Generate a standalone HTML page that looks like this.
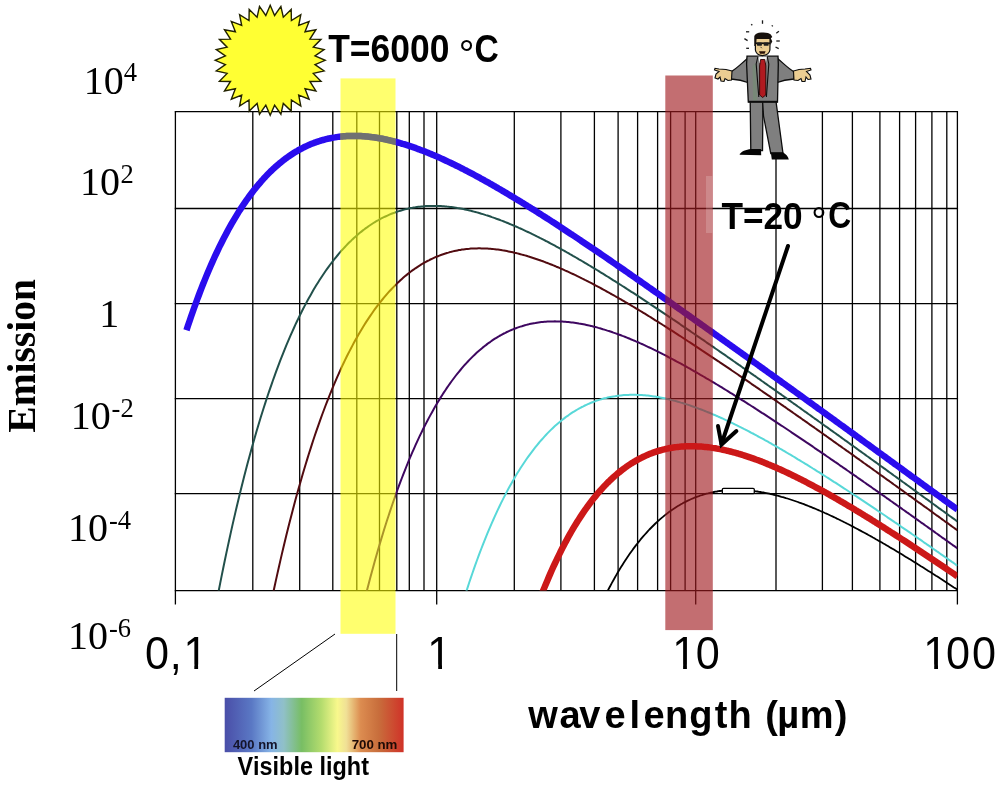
<!DOCTYPE html>
<html><head><meta charset="utf-8"><title>Blackbody emission spectra</title>
<style>
html,body{margin:0;padding:0;background:#fff;}
body{width:1000px;height:789px;overflow:hidden;}
svg{display:block;}
text{font-kerning:none;}
</style></head><body>
<svg width="1000" height="789" viewBox="0 0 1000 789">
<defs>
<clipPath id="plot"><rect x="175.4" y="111.6" width="782.0" height="479.0"/></clipPath>
<linearGradient id="spec" x1="0" y1="0" x2="1" y2="0">
<stop offset="0" stop-color="#4a4ea8"/>
<stop offset="0.15" stop-color="#5a78c4"/>
<stop offset="0.26" stop-color="#86b4e6"/>
<stop offset="0.33" stop-color="#90c0c8"/>
<stop offset="0.43" stop-color="#78be64"/>
<stop offset="0.54" stop-color="#b4dc6e"/>
<stop offset="0.63" stop-color="#f8f88c"/>
<stop offset="0.68" stop-color="#f0e096"/>
<stop offset="0.76" stop-color="#dc8c50"/>
<stop offset="0.86" stop-color="#c86e3c"/>
<stop offset="1" stop-color="#d03228"/>
</linearGradient>
</defs>
<rect width="1000" height="789" fill="#fff"/>
<g stroke="#000" stroke-width="1.3" fill="none">
<line x1="175.4" y1="111.6" x2="175.4" y2="590.6"/>
<line x1="252.8" y1="111.6" x2="252.8" y2="590.6"/>
<line x1="299.7" y1="111.6" x2="299.7" y2="590.6"/>
<line x1="332.8" y1="111.6" x2="332.8" y2="590.6"/>
<line x1="356.8" y1="111.6" x2="356.8" y2="590.6"/>
<line x1="379.5" y1="111.6" x2="379.5" y2="590.6"/>
<line x1="396.8" y1="111.6" x2="396.8" y2="590.6"/>
<line x1="409.3" y1="111.6" x2="409.3" y2="590.6"/>
<line x1="424.0" y1="111.6" x2="424.0" y2="590.6"/>
<line x1="436.7" y1="111.6" x2="436.7" y2="590.6"/>
<line x1="514.3" y1="111.6" x2="514.3" y2="590.6"/>
<line x1="560.9" y1="111.6" x2="560.9" y2="590.6"/>
<line x1="594.4" y1="111.6" x2="594.4" y2="590.6"/>
<line x1="618.1" y1="111.6" x2="618.1" y2="590.6"/>
<line x1="637.6" y1="111.6" x2="637.6" y2="590.6"/>
<line x1="657.6" y1="111.6" x2="657.6" y2="590.6"/>
<line x1="670.6" y1="111.6" x2="670.6" y2="590.6"/>
<line x1="685.1" y1="111.6" x2="685.1" y2="590.6"/>
<line x1="695.7" y1="111.6" x2="695.7" y2="590.6"/>
<line x1="776.0" y1="111.6" x2="776.0" y2="590.6"/>
<line x1="822.4" y1="111.6" x2="822.4" y2="590.6"/>
<line x1="852.4" y1="111.6" x2="852.4" y2="590.6"/>
<line x1="879.9" y1="111.6" x2="879.9" y2="590.6"/>
<line x1="899.6" y1="111.6" x2="899.6" y2="590.6"/>
<line x1="915.6" y1="111.6" x2="915.6" y2="590.6"/>
<line x1="931.9" y1="111.6" x2="931.9" y2="590.6"/>
<line x1="946.8" y1="111.6" x2="946.8" y2="590.6"/>
<line x1="957.4" y1="111.6" x2="957.4" y2="590.6"/>
<line x1="174.75" y1="111.6" x2="958.05" y2="111.6"/>
<line x1="174.75" y1="208.5" x2="958.05" y2="208.5"/>
<line x1="174.75" y1="303.6" x2="958.05" y2="303.6"/>
<line x1="174.75" y1="398.7" x2="958.05" y2="398.7"/>
<line x1="174.75" y1="493.7" x2="958.05" y2="493.7"/>
<line x1="174.75" y1="590.6" x2="958.05" y2="590.6"/>
<line x1="175.4" y1="590.6" x2="175.4" y2="604.5"/>
<line x1="436.7" y1="590.6" x2="436.7" y2="604.5"/>
<line x1="695.7" y1="590.6" x2="695.7" y2="604.5"/>
<line x1="957.4" y1="590.6" x2="957.4" y2="604.5"/>
</g>
<g clip-path="url(#plot)">
<path d="M215.9,605.3 L217.4,597.4 L218.9,589.7 L220.4,582.1 L221.9,574.6 L223.4,567.3 L224.9,560.0 L226.4,552.9 L227.9,545.9 L229.4,539.0 L230.9,532.1 L232.4,525.4 L233.9,518.9 L235.4,512.4 L236.9,506.0 L238.4,499.7 L239.9,493.5 L241.4,487.4 L242.9,481.5 L244.4,475.6 L245.9,469.8 L247.4,464.1 L248.9,458.5 L250.4,453.0 L251.9,447.5 L253.4,442.2 L254.9,437.0 L256.4,431.8 L257.9,426.7 L259.4,421.7 L260.9,416.8 L262.4,412.0 L263.9,407.3 L265.4,402.6 L266.9,398.0 L268.4,393.5 L269.9,389.1 L271.4,384.8 L272.9,380.5 L274.4,376.3 L275.9,372.1 L277.4,368.1 L278.9,364.1 L280.4,360.2 L281.9,356.4 L283.4,352.6 L284.9,348.9 L286.4,345.2 L287.9,341.7 L289.4,338.1 L290.9,334.7 L292.4,331.3 L293.9,328.0 L295.4,324.7 L296.9,321.5 L298.4,318.4 L299.9,315.3 L301.4,312.3 L302.9,309.3 L304.4,306.4 L305.9,303.6 L307.4,300.8 L308.9,298.0 L310.4,295.4 L311.9,292.7 L313.4,290.1 L314.9,287.6 L316.4,285.1 L317.9,282.7 L319.4,280.3 L320.9,278.0 L322.4,275.7 L323.9,273.5 L325.4,271.3 L326.9,269.2 L328.4,267.1 L329.9,265.0 L331.4,263.0 L332.9,261.1 L334.4,259.2 L335.9,257.3 L337.4,255.5 L338.9,253.7 L340.4,251.9 L341.9,250.2 L343.4,248.6 L344.9,247.0 L346.4,245.4 L347.9,243.8 L349.4,242.3 L350.9,240.9 L352.4,239.4 L353.9,238.0 L355.4,236.7 L356.9,235.4 L358.4,234.1 L359.9,232.8 L361.4,231.6 L362.9,230.4 L364.4,229.3 L365.9,228.1 L367.4,227.1 L368.9,226.0 L370.4,225.0 L371.9,224.0 L373.4,223.0 L374.9,222.1 L376.4,221.2 L377.9,220.4 L379.4,219.5 L380.9,218.7 L382.4,217.9 L383.9,217.2 L385.4,216.5 L386.9,215.8 L388.4,215.1 L389.9,214.4 L391.4,213.8 L392.9,213.2 L394.4,212.7 L395.9,212.1 L397.4,211.6 L398.9,211.1 L400.4,210.7 L401.9,210.2 L403.4,209.8 L404.9,209.4 L406.4,209.0 L407.9,208.7 L409.4,208.3 L410.9,208.0 L412.4,207.8 L413.9,207.5 L415.4,207.3 L416.9,207.0 L418.4,206.8 L419.9,206.7 L421.4,206.5 L422.9,206.4 L424.4,206.2 L425.9,206.1 L427.4,206.1 L428.9,206.0 L430.4,205.9 L431.9,205.9 L433.4,205.9 L434.9,205.9 L436.4,205.9 L437.9,206.0 L439.4,206.0 L440.9,206.1 L442.4,206.2 L443.9,206.3 L445.4,206.4 L446.9,206.6 L448.4,206.7 L449.9,206.9 L451.4,207.1 L452.9,207.3 L454.4,207.5 L455.9,207.7 L457.4,208.0 L458.9,208.2 L460.4,208.5 L461.9,208.8 L463.4,209.1 L464.9,209.4 L466.4,209.7 L467.9,210.1 L469.4,210.4 L470.9,210.8 L472.4,211.2 L473.9,211.6 L475.4,212.0 L476.9,212.4 L478.4,212.8 L479.9,213.2 L481.4,213.7 L482.9,214.1 L484.4,214.6 L485.9,215.1 L487.4,215.5 L488.9,216.0 L490.4,216.5 L491.9,217.1 L493.4,217.6 L494.9,218.1 L496.4,218.7 L497.9,219.2 L499.4,219.8 L500.9,220.4 L502.4,220.9 L503.9,221.5 L505.4,222.1 L506.9,222.7 L508.4,223.3 L509.9,224.0 L511.4,224.6 L512.9,225.2 L514.4,225.9 L515.9,226.5 L517.4,227.2 L518.9,227.9 L520.4,228.5 L521.9,229.2 L523.4,229.9 L524.9,230.6 L526.4,231.3 L527.9,232.0 L529.4,232.7 L530.9,233.4 L532.4,234.2 L533.9,234.9 L535.4,235.6 L536.9,236.4 L538.4,237.1 L539.9,237.9 L541.4,238.6 L542.9,239.4 L544.4,240.2 L545.9,241.0 L547.4,241.7 L548.9,242.5 L550.4,243.3 L551.9,244.1 L553.4,244.9 L554.9,245.7 L556.4,246.6 L557.9,247.4 L559.4,248.2 L560.9,249.0 L562.4,249.9 L563.9,250.7 L565.4,251.5 L566.9,252.4 L568.4,253.2 L569.9,254.1 L571.4,254.9 L572.9,255.8 L574.4,256.6 L575.9,257.5 L577.4,258.4 L578.9,259.3 L580.4,260.1 L581.9,261.0 L583.4,261.9 L584.9,262.8 L586.4,263.7 L587.9,264.6 L589.4,265.5 L590.9,266.4 L592.4,267.3 L593.9,268.2 L595.4,269.1 L596.9,270.0 L598.4,270.9 L599.9,271.9 L601.4,272.8 L602.9,273.7 L604.4,274.6 L605.9,275.6 L607.4,276.5 L608.9,277.4 L610.4,278.4 L611.9,279.3 L613.4,280.3 L614.9,281.2 L616.4,282.2 L617.9,283.1 L619.4,284.1 L620.9,285.0 L622.4,286.0 L623.9,286.9 L625.4,287.9 L626.9,288.9 L628.4,289.8 L629.9,290.8 L631.4,291.8 L632.9,292.7 L634.4,293.7 L635.9,294.7 L637.4,295.7 L638.9,296.7 L640.4,297.6 L641.9,298.6 L643.4,299.6 L644.9,300.6 L646.4,301.6 L647.9,302.6 L649.4,303.6 L650.9,304.6 L652.4,305.6 L653.9,306.6 L655.4,307.6 L656.9,308.6 L658.4,309.6 L659.9,310.6 L661.4,311.6 L662.9,312.6 L664.4,313.6 L665.9,314.6 L667.4,315.6 L668.9,316.6 L670.4,317.6 L671.9,318.6 L673.4,319.7 L674.9,320.7 L676.4,321.7 L677.9,322.7 L679.4,323.7 L680.9,324.8 L682.4,325.8 L683.9,326.8 L685.4,327.8 L686.9,328.9 L688.4,329.9 L689.9,330.9 L691.4,332.0 L692.9,333.0 L694.4,334.0 L695.9,335.1 L697.4,336.1 L698.9,337.1 L700.4,338.1 L701.9,339.2 L703.4,340.2 L704.9,341.2 L706.4,342.3 L707.9,343.3 L709.4,344.3 L710.9,345.4 L712.4,346.4 L713.9,347.4 L715.4,348.5 L716.9,349.5 L718.4,350.5 L719.9,351.6 L721.4,352.6 L722.9,353.7 L724.4,354.7 L725.9,355.7 L727.4,356.8 L728.9,357.8 L730.4,358.9 L731.9,359.9 L733.4,361.0 L734.9,362.0 L736.4,363.1 L737.9,364.1 L739.4,365.2 L740.9,366.2 L742.4,367.3 L743.9,368.3 L745.4,369.4 L746.9,370.4 L748.4,371.5 L749.9,372.5 L751.4,373.6 L752.9,374.6 L754.4,375.7 L755.9,376.7 L757.4,377.8 L758.9,378.8 L760.4,379.9 L761.9,381.0 L763.4,382.0 L764.9,383.1 L766.4,384.1 L767.9,385.2 L769.4,386.3 L770.9,387.3 L772.4,388.4 L773.9,389.4 L775.4,390.5 L776.9,391.6 L778.4,392.6 L779.9,393.7 L781.4,394.7 L782.9,395.8 L784.4,396.9 L785.9,397.9 L787.4,399.0 L788.9,400.1 L790.4,401.1 L791.9,402.2 L793.4,403.3 L794.9,404.3 L796.4,405.4 L797.9,406.5 L799.4,407.5 L800.9,408.6 L802.4,409.7 L803.9,410.8 L805.4,411.8 L806.9,412.9 L808.4,414.0 L809.9,415.0 L811.4,416.1 L812.9,417.2 L814.4,418.3 L815.9,419.3 L817.4,420.4 L818.9,421.5 L820.4,422.5 L821.9,423.6 L823.4,424.7 L824.9,425.8 L826.4,426.8 L827.9,427.9 L829.4,429.0 L830.9,430.1 L832.4,431.1 L833.9,432.2 L835.4,433.3 L836.9,434.4 L838.4,435.4 L839.9,436.5 L841.4,437.6 L842.9,438.7 L844.4,439.8 L845.9,440.8 L847.4,441.9 L848.9,443.0 L850.4,444.1 L851.9,445.2 L853.4,446.2 L854.9,447.3 L856.4,448.4 L857.9,449.5 L859.4,450.6 L860.9,451.6 L862.4,452.7 L863.9,453.8 L865.4,454.9 L866.9,456.0 L868.4,457.0 L869.9,458.1 L871.4,459.2 L872.9,460.3 L874.4,461.4 L875.9,462.4 L877.4,463.5 L878.9,464.6 L880.4,465.7 L881.9,466.8 L883.4,467.9 L884.9,468.9 L886.4,470.0 L887.9,471.1 L889.4,472.2 L890.9,473.3 L892.4,474.4 L893.9,475.5 L895.4,476.5 L896.9,477.6 L898.4,478.7 L899.9,479.8 L901.4,480.9 L902.9,482.0 L904.4,483.0 L905.9,484.1 L907.4,485.2 L908.9,486.3 L910.4,487.4 L911.9,488.5 L913.4,489.6 L914.9,490.7 L916.4,491.7 L917.9,492.8 L919.4,493.9 L920.9,495.0 L922.4,496.1 L923.9,497.2 L925.4,498.3 L926.9,499.3 L928.4,500.4 L929.9,501.5 L931.4,502.6 L932.9,503.7 L934.4,504.8 L935.9,505.9 L937.4,507.0 L938.9,508.1 L940.4,509.1 L941.9,510.2 L943.4,511.3 L944.9,512.4 L946.4,513.5 L947.9,514.6 L949.4,515.7 L950.9,516.8 L952.4,517.9 L953.9,518.9 L955.4,520.0 L956.9,521.1 L957.4,521.5" stroke="#22504b" stroke-width="2.0" fill="none" stroke-linejoin="round"/>
<path d="M271.4,601.5 L272.9,594.3 L274.4,587.3 L275.9,580.4 L277.4,573.6 L278.9,567.0 L280.4,560.4 L281.9,553.9 L283.4,547.5 L284.9,541.3 L286.4,535.1 L287.9,529.0 L289.4,523.1 L290.9,517.2 L292.4,511.4 L293.9,505.7 L295.4,500.1 L296.9,494.6 L298.4,489.2 L299.9,483.9 L301.4,478.7 L302.9,473.5 L304.4,468.5 L305.9,463.5 L307.4,458.6 L308.9,453.8 L310.4,449.1 L311.9,444.4 L313.4,439.8 L314.9,435.3 L316.4,430.9 L317.9,426.6 L319.4,422.3 L320.9,418.1 L322.4,414.0 L323.9,410.0 L325.4,406.0 L326.9,402.1 L328.4,398.3 L329.9,394.5 L331.4,390.8 L332.9,387.2 L334.4,383.6 L335.9,380.1 L337.4,376.7 L338.9,373.3 L340.4,370.0 L341.9,366.7 L343.4,363.5 L344.9,360.4 L346.4,357.3 L347.9,354.3 L349.4,351.4 L350.9,348.5 L352.4,345.6 L353.9,342.8 L355.4,340.1 L356.9,337.4 L358.4,334.8 L359.9,332.2 L361.4,329.7 L362.9,327.2 L364.4,324.8 L365.9,322.4 L367.4,320.1 L368.9,317.9 L370.4,315.6 L371.9,313.5 L373.4,311.3 L374.9,309.2 L376.4,307.2 L377.9,305.2 L379.4,303.3 L380.9,301.3 L382.4,299.5 L383.9,297.7 L385.4,295.9 L386.9,294.1 L388.4,292.4 L389.9,290.8 L391.4,289.2 L392.9,287.6 L394.4,286.1 L395.9,284.6 L397.4,283.1 L398.9,281.7 L400.4,280.3 L401.9,278.9 L403.4,277.6 L404.9,276.3 L406.4,275.1 L407.9,273.9 L409.4,272.7 L410.9,271.5 L412.4,270.4 L413.9,269.4 L415.4,268.3 L416.9,267.3 L418.4,266.3 L419.9,265.4 L421.4,264.4 L422.9,263.5 L424.4,262.7 L425.9,261.8 L427.4,261.0 L428.9,260.3 L430.4,259.5 L431.9,258.8 L433.4,258.1 L434.9,257.4 L436.4,256.8 L437.9,256.2 L439.4,255.6 L440.9,255.0 L442.4,254.5 L443.9,254.0 L445.4,253.5 L446.9,253.0 L448.4,252.6 L449.9,252.1 L451.4,251.8 L452.9,251.4 L454.4,251.0 L455.9,250.7 L457.4,250.4 L458.9,250.1 L460.4,249.9 L461.9,249.6 L463.4,249.4 L464.9,249.2 L466.4,249.0 L467.9,248.9 L469.4,248.8 L470.9,248.6 L472.4,248.5 L473.9,248.5 L475.4,248.4 L476.9,248.4 L478.4,248.3 L479.9,248.3 L481.4,248.4 L482.9,248.4 L484.4,248.4 L485.9,248.5 L487.4,248.6 L488.9,248.7 L490.4,248.8 L491.9,248.9 L493.4,249.1 L494.9,249.2 L496.4,249.4 L497.9,249.6 L499.4,249.8 L500.9,250.0 L502.4,250.3 L503.9,250.5 L505.4,250.8 L506.9,251.1 L508.4,251.4 L509.9,251.7 L511.4,252.0 L512.9,252.3 L514.4,252.7 L515.9,253.0 L517.4,253.4 L518.9,253.8 L520.4,254.2 L521.9,254.6 L523.4,255.0 L524.9,255.4 L526.4,255.8 L527.9,256.3 L529.4,256.7 L530.9,257.2 L532.4,257.7 L533.9,258.2 L535.4,258.7 L536.9,259.2 L538.4,259.7 L539.9,260.2 L541.4,260.8 L542.9,261.3 L544.4,261.9 L545.9,262.5 L547.4,263.0 L548.9,263.6 L550.4,264.2 L551.9,264.8 L553.4,265.4 L554.9,266.0 L556.4,266.7 L557.9,267.3 L559.4,267.9 L560.9,268.6 L562.4,269.2 L563.9,269.9 L565.4,270.6 L566.9,271.2 L568.4,271.9 L569.9,272.6 L571.4,273.3 L572.9,274.0 L574.4,274.7 L575.9,275.4 L577.4,276.2 L578.9,276.9 L580.4,277.6 L581.9,278.4 L583.4,279.1 L584.9,279.9 L586.4,280.6 L587.9,281.4 L589.4,282.2 L590.9,282.9 L592.4,283.7 L593.9,284.5 L595.4,285.3 L596.9,286.1 L598.4,286.9 L599.9,287.7 L601.4,288.5 L602.9,289.3 L604.4,290.1 L605.9,291.0 L607.4,291.8 L608.9,292.6 L610.4,293.5 L611.9,294.3 L613.4,295.1 L614.9,296.0 L616.4,296.9 L617.9,297.7 L619.4,298.6 L620.9,299.4 L622.4,300.3 L623.9,301.2 L625.4,302.1 L626.9,302.9 L628.4,303.8 L629.9,304.7 L631.4,305.6 L632.9,306.5 L634.4,307.4 L635.9,308.3 L637.4,309.2 L638.9,310.1 L640.4,311.0 L641.9,311.9 L643.4,312.8 L644.9,313.7 L646.4,314.7 L647.9,315.6 L649.4,316.5 L650.9,317.4 L652.4,318.4 L653.9,319.3 L655.4,320.3 L656.9,321.2 L658.4,322.1 L659.9,323.1 L661.4,324.0 L662.9,325.0 L664.4,325.9 L665.9,326.9 L667.4,327.8 L668.9,328.8 L670.4,329.8 L671.9,330.7 L673.4,331.7 L674.9,332.7 L676.4,333.6 L677.9,334.6 L679.4,335.6 L680.9,336.5 L682.4,337.5 L683.9,338.5 L685.4,339.5 L686.9,340.5 L688.4,341.5 L689.9,342.4 L691.4,343.4 L692.9,344.4 L694.4,345.4 L695.9,346.4 L697.4,347.4 L698.9,348.4 L700.4,349.4 L701.9,350.4 L703.4,351.3 L704.9,352.3 L706.4,353.3 L707.9,354.3 L709.4,355.3 L710.9,356.3 L712.4,357.3 L713.9,358.3 L715.4,359.3 L716.9,360.3 L718.4,361.3 L719.9,362.4 L721.4,363.4 L722.9,364.4 L724.4,365.4 L725.9,366.4 L727.4,367.4 L728.9,368.4 L730.4,369.4 L731.9,370.5 L733.4,371.5 L734.9,372.5 L736.4,373.5 L737.9,374.5 L739.4,375.6 L740.9,376.6 L742.4,377.6 L743.9,378.6 L745.4,379.7 L746.9,380.7 L748.4,381.7 L749.9,382.7 L751.4,383.8 L752.9,384.8 L754.4,385.8 L755.9,386.9 L757.4,387.9 L758.9,388.9 L760.4,390.0 L761.9,391.0 L763.4,392.1 L764.9,393.1 L766.4,394.1 L767.9,395.2 L769.4,396.2 L770.9,397.2 L772.4,398.3 L773.9,399.3 L775.4,400.4 L776.9,401.4 L778.4,402.5 L779.9,403.5 L781.4,404.6 L782.9,405.6 L784.4,406.7 L785.9,407.7 L787.4,408.8 L788.9,409.8 L790.4,410.9 L791.9,411.9 L793.4,413.0 L794.9,414.0 L796.4,415.1 L797.9,416.1 L799.4,417.2 L800.9,418.2 L802.4,419.3 L803.9,420.3 L805.4,421.4 L806.9,422.4 L808.4,423.5 L809.9,424.6 L811.4,425.6 L812.9,426.7 L814.4,427.7 L815.9,428.8 L817.4,429.9 L818.9,430.9 L820.4,432.0 L821.9,433.0 L823.4,434.1 L824.9,435.2 L826.4,436.2 L827.9,437.3 L829.4,438.4 L830.9,439.4 L832.4,440.5 L833.9,441.6 L835.4,442.6 L836.9,443.7 L838.4,444.8 L839.9,445.8 L841.4,446.9 L842.9,448.0 L844.4,449.0 L845.9,450.1 L847.4,451.2 L848.9,452.2 L850.4,453.3 L851.9,454.4 L853.4,455.4 L854.9,456.5 L856.4,457.6 L857.9,458.7 L859.4,459.7 L860.9,460.8 L862.4,461.9 L863.9,463.0 L865.4,464.0 L866.9,465.1 L868.4,466.2 L869.9,467.2 L871.4,468.3 L872.9,469.4 L874.4,470.5 L875.9,471.5 L877.4,472.6 L878.9,473.7 L880.4,474.8 L881.9,475.8 L883.4,476.9 L884.9,478.0 L886.4,479.1 L887.9,480.2 L889.4,481.2 L890.9,482.3 L892.4,483.4 L893.9,484.5 L895.4,485.5 L896.9,486.6 L898.4,487.7 L899.9,488.8 L901.4,489.9 L902.9,490.9 L904.4,492.0 L905.9,493.1 L907.4,494.2 L908.9,495.3 L910.4,496.3 L911.9,497.4 L913.4,498.5 L914.9,499.6 L916.4,500.7 L917.9,501.8 L919.4,502.8 L920.9,503.9 L922.4,505.0 L923.9,506.1 L925.4,507.2 L926.9,508.2 L928.4,509.3 L929.9,510.4 L931.4,511.5 L932.9,512.6 L934.4,513.7 L935.9,514.8 L937.4,515.8 L938.9,516.9 L940.4,518.0 L941.9,519.1 L943.4,520.2 L944.9,521.3 L946.4,522.3 L947.9,523.4 L949.4,524.5 L950.9,525.6 L952.4,526.7 L953.9,527.8 L955.4,528.9 L956.9,529.9 L957.4,530.3" stroke="#520b10" stroke-width="2.0" fill="none" stroke-linejoin="round"/>
<path d="M364.4,600.5 L365.9,594.5 L367.4,588.7 L368.9,582.9 L370.4,577.2 L371.9,571.7 L373.4,566.2 L374.9,560.8 L376.4,555.5 L377.9,550.3 L379.4,545.2 L380.9,540.1 L382.4,535.2 L383.9,530.3 L385.4,525.5 L386.9,520.8 L388.4,516.2 L389.9,511.6 L391.4,507.2 L392.9,502.8 L394.4,498.5 L395.9,494.2 L397.4,490.0 L398.9,485.9 L400.4,481.9 L401.9,478.0 L403.4,474.1 L404.9,470.3 L406.4,466.5 L407.9,462.8 L409.4,459.2 L410.9,455.7 L412.4,452.2 L413.9,448.8 L415.4,445.4 L416.9,442.1 L418.4,438.9 L419.9,435.7 L421.4,432.6 L422.9,429.5 L424.4,426.5 L425.9,423.6 L427.4,420.7 L428.9,417.9 L430.4,415.1 L431.9,412.4 L433.4,409.7 L434.9,407.1 L436.4,404.6 L437.9,402.0 L439.4,399.6 L440.9,397.1 L442.4,394.8 L443.9,392.4 L445.4,390.2 L446.9,387.9 L448.4,385.7 L449.9,383.6 L451.4,381.5 L452.9,379.5 L454.4,377.5 L455.9,375.5 L457.4,373.6 L458.9,371.8 L460.4,370.0 L461.9,368.2 L463.4,366.4 L464.9,364.7 L466.4,363.1 L467.9,361.5 L469.4,359.9 L470.9,358.4 L472.4,356.9 L473.9,355.4 L475.4,354.0 L476.9,352.6 L478.4,351.3 L479.9,350.0 L481.4,348.7 L482.9,347.4 L484.4,346.2 L485.9,345.1 L487.4,343.9 L488.9,342.8 L490.4,341.8 L491.9,340.7 L493.4,339.7 L494.9,338.7 L496.4,337.8 L497.9,336.9 L499.4,336.0 L500.9,335.2 L502.4,334.3 L503.9,333.5 L505.4,332.8 L506.9,332.0 L508.4,331.3 L509.9,330.6 L511.4,330.0 L512.9,329.4 L514.4,328.8 L515.9,328.2 L517.4,327.6 L518.9,327.1 L520.4,326.6 L521.9,326.2 L523.4,325.7 L524.9,325.3 L526.4,324.9 L527.9,324.5 L529.4,324.1 L530.9,323.8 L532.4,323.5 L533.9,323.2 L535.4,323.0 L536.9,322.7 L538.4,322.5 L539.9,322.3 L541.4,322.1 L542.9,321.9 L544.4,321.8 L545.9,321.7 L547.4,321.6 L548.9,321.5 L550.4,321.4 L551.9,321.4 L553.4,321.4 L554.9,321.3 L556.4,321.4 L557.9,321.4 L559.4,321.4 L560.9,321.5 L562.4,321.6 L563.9,321.7 L565.4,321.8 L566.9,321.9 L568.4,322.0 L569.9,322.2 L571.4,322.4 L572.9,322.6 L574.4,322.8 L575.9,323.0 L577.4,323.2 L578.9,323.5 L580.4,323.7 L581.9,324.0 L583.4,324.3 L584.9,324.6 L586.4,324.9 L587.9,325.2 L589.4,325.6 L590.9,325.9 L592.4,326.3 L593.9,326.7 L595.4,327.0 L596.9,327.4 L598.4,327.9 L599.9,328.3 L601.4,328.7 L602.9,329.2 L604.4,329.6 L605.9,330.1 L607.4,330.6 L608.9,331.0 L610.4,331.5 L611.9,332.0 L613.4,332.6 L614.9,333.1 L616.4,333.6 L617.9,334.2 L619.4,334.7 L620.9,335.3 L622.4,335.9 L623.9,336.4 L625.4,337.0 L626.9,337.6 L628.4,338.2 L629.9,338.8 L631.4,339.5 L632.9,340.1 L634.4,340.7 L635.9,341.4 L637.4,342.0 L638.9,342.7 L640.4,343.4 L641.9,344.0 L643.4,344.7 L644.9,345.4 L646.4,346.1 L647.9,346.8 L649.4,347.5 L650.9,348.2 L652.4,348.9 L653.9,349.7 L655.4,350.4 L656.9,351.1 L658.4,351.9 L659.9,352.6 L661.4,353.4 L662.9,354.2 L664.4,354.9 L665.9,355.7 L667.4,356.5 L668.9,357.3 L670.4,358.1 L671.9,358.9 L673.4,359.7 L674.9,360.5 L676.4,361.3 L677.9,362.1 L679.4,362.9 L680.9,363.7 L682.4,364.5 L683.9,365.4 L685.4,366.2 L686.9,367.0 L688.4,367.9 L689.9,368.7 L691.4,369.6 L692.9,370.5 L694.4,371.3 L695.9,372.2 L697.4,373.0 L698.9,373.9 L700.4,374.8 L701.9,375.6 L703.4,376.5 L704.9,377.4 L706.4,378.3 L707.9,379.1 L709.4,380.0 L710.9,380.9 L712.4,381.8 L713.9,382.7 L715.4,383.6 L716.9,384.5 L718.4,385.4 L719.9,386.3 L721.4,387.2 L722.9,388.2 L724.4,389.1 L725.9,390.0 L727.4,390.9 L728.9,391.8 L730.4,392.8 L731.9,393.7 L733.4,394.6 L734.9,395.6 L736.4,396.5 L737.9,397.4 L739.4,398.4 L740.9,399.3 L742.4,400.3 L743.9,401.2 L745.4,402.2 L746.9,403.1 L748.4,404.1 L749.9,405.0 L751.4,406.0 L752.9,406.9 L754.4,407.9 L755.9,408.9 L757.4,409.8 L758.9,410.8 L760.4,411.8 L761.9,412.8 L763.4,413.7 L764.9,414.7 L766.4,415.7 L767.9,416.7 L769.4,417.6 L770.9,418.6 L772.4,419.6 L773.9,420.6 L775.4,421.6 L776.9,422.6 L778.4,423.6 L779.9,424.6 L781.4,425.6 L782.9,426.5 L784.4,427.5 L785.9,428.5 L787.4,429.5 L788.9,430.5 L790.4,431.5 L791.9,432.6 L793.4,433.6 L794.9,434.6 L796.4,435.6 L797.9,436.6 L799.4,437.6 L800.9,438.6 L802.4,439.6 L803.9,440.6 L805.4,441.6 L806.9,442.7 L808.4,443.7 L809.9,444.7 L811.4,445.7 L812.9,446.7 L814.4,447.8 L815.9,448.8 L817.4,449.8 L818.9,450.8 L820.4,451.9 L821.9,452.9 L823.4,453.9 L824.9,454.9 L826.4,456.0 L827.9,457.0 L829.4,458.0 L830.9,459.1 L832.4,460.1 L833.9,461.1 L835.4,462.2 L836.9,463.2 L838.4,464.2 L839.9,465.3 L841.4,466.3 L842.9,467.4 L844.4,468.4 L845.9,469.4 L847.4,470.5 L848.9,471.5 L850.4,472.6 L851.9,473.6 L853.4,474.6 L854.9,475.7 L856.4,476.7 L857.9,477.8 L859.4,478.8 L860.9,479.9 L862.4,480.9 L863.9,482.0 L865.4,483.0 L866.9,484.1 L868.4,485.1 L869.9,486.2 L871.4,487.2 L872.9,488.3 L874.4,489.3 L875.9,490.4 L877.4,491.4 L878.9,492.5 L880.4,493.6 L881.9,494.6 L883.4,495.7 L884.9,496.7 L886.4,497.8 L887.9,498.8 L889.4,499.9 L890.9,501.0 L892.4,502.0 L893.9,503.1 L895.4,504.1 L896.9,505.2 L898.4,506.3 L899.9,507.3 L901.4,508.4 L902.9,509.5 L904.4,510.5 L905.9,511.6 L907.4,512.7 L908.9,513.7 L910.4,514.8 L911.9,515.9 L913.4,516.9 L914.9,518.0 L916.4,519.1 L917.9,520.1 L919.4,521.2 L920.9,522.3 L922.4,523.3 L923.9,524.4 L925.4,525.5 L926.9,526.5 L928.4,527.6 L929.9,528.7 L931.4,529.7 L932.9,530.8 L934.4,531.9 L935.9,533.0 L937.4,534.0 L938.9,535.1 L940.4,536.2 L941.9,537.3 L943.4,538.3 L944.9,539.4 L946.4,540.5 L947.9,541.5 L949.4,542.6 L950.9,543.7 L952.4,544.8 L953.9,545.8 L955.4,546.9 L956.9,548.0 L957.4,548.4" stroke="#3e0760" stroke-width="2.0" fill="none" stroke-linejoin="round"/>
<path d="M463.4,600.7 L464.9,595.9 L466.4,591.2 L467.9,586.6 L469.4,582.0 L470.9,577.6 L472.4,573.2 L473.9,568.9 L475.4,564.7 L476.9,560.5 L478.4,556.4 L479.9,552.4 L481.4,548.5 L482.9,544.6 L484.4,540.8 L485.9,537.1 L487.4,533.4 L488.9,529.8 L490.4,526.3 L491.9,522.9 L493.4,519.5 L494.9,516.1 L496.4,512.8 L497.9,509.6 L499.4,506.5 L500.9,503.4 L502.4,500.4 L503.9,497.4 L505.4,494.5 L506.9,491.6 L508.4,488.8 L509.9,486.1 L511.4,483.4 L512.9,480.7 L514.4,478.2 L515.9,475.6 L517.4,473.1 L518.9,470.7 L520.4,468.3 L521.9,466.0 L523.4,463.7 L524.9,461.5 L526.4,459.3 L527.9,457.2 L529.4,455.1 L530.9,453.1 L532.4,451.1 L533.9,449.1 L535.4,447.2 L536.9,445.3 L538.4,443.5 L539.9,441.7 L541.4,440.0 L542.9,438.3 L544.4,436.6 L545.9,435.0 L547.4,433.4 L548.9,431.9 L550.4,430.4 L551.9,428.9 L553.4,427.5 L554.9,426.1 L556.4,424.8 L557.9,423.5 L559.4,422.2 L560.9,421.0 L562.4,419.8 L563.9,418.6 L565.4,417.4 L566.9,416.3 L568.4,415.3 L569.9,414.2 L571.4,413.2 L572.9,412.2 L574.4,411.3 L575.9,410.4 L577.4,409.5 L578.9,408.6 L580.4,407.8 L581.9,407.0 L583.4,406.3 L584.9,405.5 L586.4,404.8 L587.9,404.1 L589.4,403.5 L590.9,402.8 L592.4,402.2 L593.9,401.7 L595.4,401.1 L596.9,400.6 L598.4,400.1 L599.9,399.6 L601.4,399.2 L602.9,398.7 L604.4,398.3 L605.9,398.0 L607.4,397.6 L608.9,397.3 L610.4,397.0 L611.9,396.7 L613.4,396.4 L614.9,396.2 L616.4,395.9 L617.9,395.7 L619.4,395.6 L620.9,395.4 L622.4,395.2 L623.9,395.1 L625.4,395.0 L626.9,394.9 L628.4,394.9 L629.9,394.8 L631.4,394.8 L632.9,394.8 L634.4,394.8 L635.9,394.8 L637.4,394.9 L638.9,394.9 L640.4,395.0 L641.9,395.1 L643.4,395.2 L644.9,395.3 L646.4,395.5 L647.9,395.6 L649.4,395.8 L650.9,396.0 L652.4,396.2 L653.9,396.4 L655.4,396.6 L656.9,396.9 L658.4,397.1 L659.9,397.4 L661.4,397.7 L662.9,398.0 L664.4,398.3 L665.9,398.6 L667.4,399.0 L668.9,399.3 L670.4,399.7 L671.9,400.1 L673.4,400.5 L674.9,400.9 L676.4,401.3 L677.9,401.7 L679.4,402.1 L680.9,402.6 L682.4,403.0 L683.9,403.5 L685.4,404.0 L686.9,404.4 L688.4,404.9 L689.9,405.4 L691.4,406.0 L692.9,406.5 L694.4,407.0 L695.9,407.6 L697.4,408.1 L698.9,408.7 L700.4,409.2 L701.9,409.8 L703.4,410.4 L704.9,411.0 L706.4,411.6 L707.9,412.2 L709.4,412.8 L710.9,413.4 L712.4,414.1 L713.9,414.7 L715.4,415.3 L716.9,416.0 L718.4,416.7 L719.9,417.3 L721.4,418.0 L722.9,418.7 L724.4,419.4 L725.9,420.1 L727.4,420.8 L728.9,421.5 L730.4,422.2 L731.9,422.9 L733.4,423.6 L734.9,424.4 L736.4,425.1 L737.9,425.8 L739.4,426.6 L740.9,427.3 L742.4,428.1 L743.9,428.9 L745.4,429.6 L746.9,430.4 L748.4,431.2 L749.9,432.0 L751.4,432.8 L752.9,433.5 L754.4,434.3 L755.9,435.1 L757.4,436.0 L758.9,436.8 L760.4,437.6 L761.9,438.4 L763.4,439.2 L764.9,440.1 L766.4,440.9 L767.9,441.7 L769.4,442.6 L770.9,443.4 L772.4,444.3 L773.9,445.1 L775.4,446.0 L776.9,446.8 L778.4,447.7 L779.9,448.6 L781.4,449.4 L782.9,450.3 L784.4,451.2 L785.9,452.1 L787.4,453.0 L788.9,453.9 L790.4,454.7 L791.9,455.6 L793.4,456.5 L794.9,457.4 L796.4,458.3 L797.9,459.3 L799.4,460.2 L800.9,461.1 L802.4,462.0 L803.9,462.9 L805.4,463.8 L806.9,464.7 L808.4,465.7 L809.9,466.6 L811.4,467.5 L812.9,468.5 L814.4,469.4 L815.9,470.3 L817.4,471.3 L818.9,472.2 L820.4,473.2 L821.9,474.1 L823.4,475.1 L824.9,476.0 L826.4,477.0 L827.9,477.9 L829.4,478.9 L830.9,479.8 L832.4,480.8 L833.9,481.8 L835.4,482.7 L836.9,483.7 L838.4,484.7 L839.9,485.6 L841.4,486.6 L842.9,487.6 L844.4,488.6 L845.9,489.5 L847.4,490.5 L848.9,491.5 L850.4,492.5 L851.9,493.5 L853.4,494.5 L854.9,495.5 L856.4,496.4 L857.9,497.4 L859.4,498.4 L860.9,499.4 L862.4,500.4 L863.9,501.4 L865.4,502.4 L866.9,503.4 L868.4,504.4 L869.9,505.4 L871.4,506.4 L872.9,507.4 L874.4,508.4 L875.9,509.4 L877.4,510.5 L878.9,511.5 L880.4,512.5 L881.9,513.5 L883.4,514.5 L884.9,515.5 L886.4,516.5 L887.9,517.6 L889.4,518.6 L890.9,519.6 L892.4,520.6 L893.9,521.6 L895.4,522.7 L896.9,523.7 L898.4,524.7 L899.9,525.7 L901.4,526.8 L902.9,527.8 L904.4,528.8 L905.9,529.8 L907.4,530.9 L908.9,531.9 L910.4,532.9 L911.9,534.0 L913.4,535.0 L914.9,536.0 L916.4,537.1 L917.9,538.1 L919.4,539.2 L920.9,540.2 L922.4,541.2 L923.9,542.3 L925.4,543.3 L926.9,544.4 L928.4,545.4 L929.9,546.4 L931.4,547.5 L932.9,548.5 L934.4,549.6 L935.9,550.6 L937.4,551.7 L938.9,552.7 L940.4,553.8 L941.9,554.8 L943.4,555.9 L944.9,556.9 L946.4,558.0 L947.9,559.0 L949.4,560.1 L950.9,561.1 L952.4,562.2 L953.9,563.2 L955.4,564.3 L956.9,565.3 L957.4,565.7" stroke="#58d8d8" stroke-width="2.0" fill="none" stroke-linejoin="round"/>
<path d="M602.9,600.4 L604.4,597.3 L605.9,594.3 L607.4,591.4 L608.9,588.5 L610.4,585.7 L611.9,582.9 L613.4,580.2 L614.9,577.5 L616.4,574.9 L617.9,572.3 L619.4,569.8 L620.9,567.3 L622.4,564.9 L623.9,562.6 L625.4,560.3 L626.9,558.0 L628.4,555.8 L629.9,553.6 L631.4,551.5 L632.9,549.4 L634.4,547.4 L635.9,545.4 L637.4,543.5 L638.9,541.6 L640.4,539.7 L641.9,537.9 L643.4,536.2 L644.9,534.5 L646.4,532.8 L647.9,531.1 L649.4,529.5 L650.9,528.0 L652.4,526.5 L653.9,525.0 L655.4,523.5 L656.9,522.1 L658.4,520.7 L659.9,519.4 L661.4,518.1 L662.9,516.9 L664.4,515.6 L665.9,514.4 L667.4,513.3 L668.9,512.1 L670.4,511.1 L671.9,510.0 L673.4,509.0 L674.9,508.0 L676.4,507.0 L677.9,506.1 L679.4,505.2 L680.9,504.3 L682.4,503.5 L683.9,502.6 L685.4,501.9 L686.9,501.1 L688.4,500.4 L689.9,499.7 L691.4,499.0 L692.9,498.4 L694.4,497.7 L695.9,497.2 L697.4,496.6 L698.9,496.1 L700.4,495.5 L701.9,495.1 L703.4,494.6 L704.9,494.2 L706.4,493.7 L707.9,493.4 L709.4,493.0 L710.9,492.6 L712.4,492.3 L713.9,492.0 L715.4,491.7 L716.9,491.5 L718.4,491.2 L719.9,491.0 L721.4,490.8 L722.9,490.6 L724.4,490.5 L725.9,490.4 L727.4,490.2 L728.9,490.1 L730.4,490.1 L731.9,490.0 L733.4,490.0 L734.9,489.9 L736.4,489.9 L737.9,489.9 L739.4,490.0 L740.9,490.0 L742.4,490.1 L743.9,490.1 L745.4,490.2 L746.9,490.3 L748.4,490.5 L749.9,490.6 L751.4,490.8 L752.9,490.9 L754.4,491.1 L755.9,491.3 L757.4,491.5 L758.9,491.8 L760.4,492.0 L761.9,492.3 L763.4,492.5 L764.9,492.8 L766.4,493.1 L767.9,493.4 L769.4,493.7 L770.9,494.1 L772.4,494.4 L773.9,494.8 L775.4,495.2 L776.9,495.5 L778.4,495.9 L779.9,496.3 L781.4,496.8 L782.9,497.2 L784.4,497.6 L785.9,498.1 L787.4,498.5 L788.9,499.0 L790.4,499.5 L791.9,500.0 L793.4,500.5 L794.9,501.0 L796.4,501.5 L797.9,502.0 L799.4,502.6 L800.9,503.1 L802.4,503.7 L803.9,504.2 L805.4,504.8 L806.9,505.4 L808.4,506.0 L809.9,506.6 L811.4,507.2 L812.9,507.8 L814.4,508.4 L815.9,509.0 L817.4,509.7 L818.9,510.3 L820.4,511.0 L821.9,511.6 L823.4,512.3 L824.9,513.0 L826.4,513.6 L827.9,514.3 L829.4,515.0 L830.9,515.7 L832.4,516.4 L833.9,517.1 L835.4,517.8 L836.9,518.6 L838.4,519.3 L839.9,520.0 L841.4,520.8 L842.9,521.5 L844.4,522.3 L845.9,523.0 L847.4,523.8 L848.9,524.5 L850.4,525.3 L851.9,526.1 L853.4,526.9 L854.9,527.7 L856.4,528.5 L857.9,529.3 L859.4,530.1 L860.9,530.9 L862.4,531.7 L863.9,532.5 L865.4,533.3 L866.9,534.1 L868.4,535.0 L869.9,535.8 L871.4,536.6 L872.9,537.5 L874.4,538.3 L875.9,539.2 L877.4,540.0 L878.9,540.9 L880.4,541.7 L881.9,542.6 L883.4,543.5 L884.9,544.3 L886.4,545.2 L887.9,546.1 L889.4,547.0 L890.9,547.9 L892.4,548.7 L893.9,549.6 L895.4,550.5 L896.9,551.4 L898.4,552.3 L899.9,553.2 L901.4,554.1 L902.9,555.0 L904.4,556.0 L905.9,556.9 L907.4,557.8 L908.9,558.7 L910.4,559.6 L911.9,560.6 L913.4,561.5 L914.9,562.4 L916.4,563.3 L917.9,564.3 L919.4,565.2 L920.9,566.2 L922.4,567.1 L923.9,568.0 L925.4,569.0 L926.9,569.9 L928.4,570.9 L929.9,571.8 L931.4,572.8 L932.9,573.8 L934.4,574.7 L935.9,575.7 L937.4,576.6 L938.9,577.6 L940.4,578.6 L941.9,579.5 L943.4,580.5 L944.9,581.5 L946.4,582.5 L947.9,583.4 L949.4,584.4 L950.9,585.4 L952.4,586.4 L953.9,587.4 L955.4,588.3 L956.9,589.3 L957.4,589.7" stroke="#000000" stroke-width="1.8" fill="none" stroke-linejoin="round"/>
<path d="M186.5,330.2 L188.0,325.6 L189.5,321.2 L191.0,316.8 L192.5,312.5 L194.0,308.2 L195.5,304.1 L197.0,300.0 L198.5,296.0 L200.0,292.0 L201.5,288.1 L203.0,284.3 L204.5,280.6 L206.0,276.9 L207.5,273.3 L209.0,269.8 L210.5,266.3 L212.0,262.9 L213.5,259.5 L215.0,256.2 L216.5,253.0 L218.0,249.8 L219.5,246.7 L221.0,243.7 L222.5,240.7 L224.0,237.8 L225.5,234.9 L227.0,232.1 L228.5,229.3 L230.0,226.6 L231.5,223.9 L233.0,221.3 L234.5,218.8 L236.0,216.3 L237.5,213.8 L239.0,211.4 L240.5,209.1 L242.0,206.8 L243.5,204.5 L245.0,202.3 L246.5,200.2 L248.0,198.1 L249.5,196.0 L251.0,194.0 L252.5,192.0 L254.0,190.1 L255.5,188.2 L257.0,186.3 L258.5,184.5 L260.0,182.8 L261.5,181.0 L263.0,179.4 L264.5,177.7 L266.0,176.1 L267.5,174.5 L269.0,173.0 L270.5,171.5 L272.0,170.1 L273.5,168.7 L275.0,167.3 L276.5,166.0 L278.0,164.7 L279.5,163.4 L281.0,162.2 L282.5,161.0 L284.0,159.8 L285.5,158.7 L287.0,157.6 L288.5,156.5 L290.0,155.5 L291.5,154.5 L293.0,153.5 L294.5,152.5 L296.0,151.6 L297.5,150.8 L299.0,149.9 L300.5,149.1 L302.0,148.3 L303.5,147.5 L305.0,146.8 L306.5,146.1 L308.0,145.4 L309.5,144.7 L311.0,144.1 L312.5,143.5 L314.0,142.9 L315.5,142.4 L317.0,141.8 L318.5,141.3 L320.0,140.9 L321.5,140.4 L323.0,140.0 L324.5,139.6 L326.0,139.2 L327.5,138.8 L329.0,138.5 L330.5,138.2 L332.0,137.9 L333.5,137.6 L335.0,137.4 L336.5,137.1 L338.0,136.9 L339.5,136.7 L341.0,136.6 L342.5,136.4 L344.0,136.3 L345.5,136.2 L347.0,136.1 L348.5,136.0 L350.0,136.0 L351.5,135.9 L353.0,135.9 L354.5,135.9 L356.0,135.9 L357.5,136.0 L359.0,136.0 L360.5,136.1 L362.0,136.2 L363.5,136.3 L365.0,136.4 L366.5,136.5 L368.0,136.7 L369.5,136.8 L371.0,137.0 L372.5,137.2 L374.0,137.4 L375.5,137.6 L377.0,137.8 L378.5,138.1 L380.0,138.4 L381.5,138.6 L383.0,138.9 L384.5,139.2 L386.0,139.5 L387.5,139.9 L389.0,140.2 L390.5,140.6 L392.0,140.9 L393.5,141.3 L395.0,141.7 L396.5,142.1 L398.0,142.5 L399.5,142.9 L401.0,143.3 L402.5,143.8 L404.0,144.2 L405.5,144.7 L407.0,145.2 L408.5,145.7 L410.0,146.2 L411.5,146.7 L413.0,147.2 L414.5,147.7 L416.0,148.2 L417.5,148.8 L419.0,149.3 L420.5,149.9 L422.0,150.5 L423.5,151.0 L425.0,151.6 L426.5,152.2 L428.0,152.8 L429.5,153.4 L431.0,154.0 L432.5,154.7 L434.0,155.3 L435.5,155.9 L437.0,156.6 L438.5,157.2 L440.0,157.9 L441.5,158.6 L443.0,159.3 L444.5,160.0 L446.0,160.7 L447.5,161.4 L449.0,162.1 L450.5,162.8 L452.0,163.5 L453.5,164.2 L455.0,165.0 L456.5,165.7 L458.0,166.4 L459.5,167.2 L461.0,168.0 L462.5,168.7 L464.0,169.5 L465.5,170.3 L467.0,171.0 L468.5,171.8 L470.0,172.6 L471.5,173.4 L473.0,174.2 L474.5,175.0 L476.0,175.8 L477.5,176.6 L479.0,177.4 L480.5,178.3 L482.0,179.1 L483.5,179.9 L485.0,180.8 L486.5,181.6 L488.0,182.4 L489.5,183.3 L491.0,184.1 L492.5,185.0 L494.0,185.9 L495.5,186.7 L497.0,187.6 L498.5,188.5 L500.0,189.3 L501.5,190.2 L503.0,191.1 L504.5,192.0 L506.0,192.9 L507.5,193.8 L509.0,194.7 L510.5,195.6 L512.0,196.5 L513.5,197.4 L515.0,198.3 L516.5,199.2 L518.0,200.1 L519.5,201.0 L521.0,201.9 L522.5,202.9 L524.0,203.8 L525.5,204.7 L527.0,205.6 L528.5,206.6 L530.0,207.5 L531.5,208.5 L533.0,209.4 L534.5,210.3 L536.0,211.3 L537.5,212.2 L539.0,213.2 L540.5,214.1 L542.0,215.1 L543.5,216.1 L545.0,217.0 L546.5,218.0 L548.0,218.9 L549.5,219.9 L551.0,220.9 L552.5,221.9 L554.0,222.8 L555.5,223.8 L557.0,224.8 L558.5,225.8 L560.0,226.7 L561.5,227.7 L563.0,228.7 L564.5,229.7 L566.0,230.7 L567.5,231.7 L569.0,232.7 L570.5,233.7 L572.0,234.6 L573.5,235.6 L575.0,236.6 L576.5,237.6 L578.0,238.6 L579.5,239.6 L581.0,240.7 L582.5,241.7 L584.0,242.7 L585.5,243.7 L587.0,244.7 L588.5,245.7 L590.0,246.7 L591.5,247.7 L593.0,248.7 L594.5,249.8 L596.0,250.8 L597.5,251.8 L599.0,252.8 L600.5,253.8 L602.0,254.9 L603.5,255.9 L605.0,256.9 L606.5,257.9 L608.0,259.0 L609.5,260.0 L611.0,261.0 L612.5,262.1 L614.0,263.1 L615.5,264.1 L617.0,265.2 L618.5,266.2 L620.0,267.2 L621.5,268.3 L623.0,269.3 L624.5,270.3 L626.0,271.4 L627.5,272.4 L629.0,273.5 L630.5,274.5 L632.0,275.6 L633.5,276.6 L635.0,277.6 L636.5,278.7 L638.0,279.7 L639.5,280.8 L641.0,281.8 L642.5,282.9 L644.0,283.9 L645.5,285.0 L647.0,286.0 L648.5,287.1 L650.0,288.1 L651.5,289.2 L653.0,290.3 L654.5,291.3 L656.0,292.4 L657.5,293.4 L659.0,294.5 L660.5,295.5 L662.0,296.6 L663.5,297.7 L665.0,298.7 L666.5,299.8 L668.0,300.8 L669.5,301.9 L671.0,303.0 L672.5,304.0 L674.0,305.1 L675.5,306.2 L677.0,307.2 L678.5,308.3 L680.0,309.4 L681.5,310.4 L683.0,311.5 L684.5,312.6 L686.0,313.6 L687.5,314.7 L689.0,315.8 L690.5,316.8 L692.0,317.9 L693.5,319.0 L695.0,320.1 L696.5,321.1 L698.0,322.2 L699.5,323.3 L701.0,324.3 L702.5,325.4 L704.0,326.4 L705.5,327.5 L707.0,328.6 L708.5,329.6 L710.0,330.7 L711.5,331.8 L713.0,332.8 L714.5,333.9 L716.0,335.0 L717.5,336.0 L719.0,337.1 L720.5,338.2 L722.0,339.3 L723.5,340.3 L725.0,341.4 L726.5,342.5 L728.0,343.5 L729.5,344.6 L731.0,345.7 L732.5,346.7 L734.0,347.8 L735.5,348.9 L737.0,350.0 L738.5,351.0 L740.0,352.1 L741.5,353.2 L743.0,354.3 L744.5,355.3 L746.0,356.4 L747.5,357.5 L749.0,358.6 L750.5,359.6 L752.0,360.7 L753.5,361.8 L755.0,362.9 L756.5,363.9 L758.0,365.0 L759.5,366.1 L761.0,367.2 L762.5,368.2 L764.0,369.3 L765.5,370.4 L767.0,371.5 L768.5,372.6 L770.0,373.6 L771.5,374.7 L773.0,375.8 L774.5,376.9 L776.0,378.0 L777.5,379.0 L779.0,380.1 L780.5,381.2 L782.0,382.3 L783.5,383.4 L785.0,384.4 L786.5,385.5 L788.0,386.6 L789.5,387.7 L791.0,388.8 L792.5,389.8 L794.0,390.9 L795.5,392.0 L797.0,393.1 L798.5,394.2 L800.0,395.3 L801.5,396.3 L803.0,397.4 L804.5,398.5 L806.0,399.6 L807.5,400.7 L809.0,401.8 L810.5,402.8 L812.0,403.9 L813.5,405.0 L815.0,406.1 L816.5,407.2 L818.0,408.3 L819.5,409.4 L821.0,410.4 L822.5,411.5 L824.0,412.6 L825.5,413.7 L827.0,414.8 L828.5,415.9 L830.0,417.0 L831.5,418.0 L833.0,419.1 L834.5,420.2 L836.0,421.3 L837.5,422.4 L839.0,423.5 L840.5,424.6 L842.0,425.6 L843.5,426.7 L845.0,427.8 L846.5,428.9 L848.0,430.0 L849.5,431.1 L851.0,432.2 L852.5,433.3 L854.0,434.3 L855.5,435.4 L857.0,436.5 L858.5,437.6 L860.0,438.7 L861.5,439.8 L863.0,440.9 L864.5,442.0 L866.0,443.1 L867.5,444.1 L869.0,445.2 L870.5,446.3 L872.0,447.4 L873.5,448.5 L875.0,449.6 L876.5,450.7 L878.0,451.8 L879.5,452.9 L881.0,453.9 L882.5,455.0 L884.0,456.1 L885.5,457.2 L887.0,458.3 L888.5,459.4 L890.0,460.5 L891.5,461.6 L893.0,462.7 L894.5,463.8 L896.0,464.9 L897.5,465.9 L899.0,467.0 L900.5,468.1 L902.0,469.2 L903.5,470.3 L905.0,471.4 L906.5,472.5 L908.0,473.6 L909.5,474.7 L911.0,475.8 L912.5,476.9 L914.0,477.9 L915.5,479.0 L917.0,480.1 L918.5,481.2 L920.0,482.3 L921.5,483.4 L923.0,484.5 L924.5,485.6 L926.0,486.7 L927.5,487.8 L929.0,488.9 L930.5,490.0 L932.0,491.0 L933.5,492.1 L935.0,493.2 L936.5,494.3 L938.0,495.4 L939.5,496.5 L941.0,497.6 L942.5,498.7 L944.0,499.8 L945.5,500.9 L947.0,502.0 L948.5,503.1 L950.0,504.2 L951.5,505.3 L953.0,506.3 L954.5,507.4 L956.0,508.5 L957.4,509.5" stroke="#2a0cee" stroke-width="6.5" fill="none" stroke-linejoin="round"/>
<rect x="722.3" y="488.4" width="32" height="5.2" rx="1.2" fill="#fff" stroke="#000" stroke-width="1.3"/>
</g>
<rect x="340.5" y="78.4" width="55" height="555.4" fill="#ffff00" fill-opacity="0.57"/>
<clipPath id="yb"><rect x="340.5" y="78.4" width="55" height="555.4"/></clipPath>
<path clip-path="url(#yb)" d="M330.0,138.3 L331.5,138.0 L333.0,137.7 L334.5,137.4 L336.0,137.2 L337.5,137.0 L339.0,136.8 L340.5,136.6 L342.0,136.5 L343.5,136.3 L345.0,136.2 L346.5,136.1 L348.0,136.0 L349.5,136.0 L351.0,135.9 L352.5,135.9 L354.0,135.9 L355.5,135.9 L357.0,135.9 L358.5,136.0 L360.0,136.1 L361.5,136.1 L363.0,136.2 L364.5,136.3 L366.0,136.5 L367.5,136.6 L369.0,136.8 L370.5,136.9 L372.0,137.1 L373.5,137.3 L375.0,137.5 L376.5,137.8 L378.0,138.0 L379.5,138.3 L381.0,138.5 L382.5,138.8 L384.0,139.1 L385.5,139.4 L387.0,139.8 L388.5,140.1 L390.0,140.4 L391.5,140.8 L393.0,141.2 L394.5,141.6 L396.0,141.9 L397.5,142.4 L399.0,142.8 L400.5,143.2 L402.0,143.6 L403.5,144.1 L405.0,144.6 L406.5,145.0 L408.0,145.5 L409.5,146.0 L410.0,146.2" stroke="#707072" stroke-width="6.5" fill="none"/>
<rect x="665.3" y="75.5" width="47.5" height="554.6" fill="#a01a1e" fill-opacity="0.63"/>
<g clip-path="url(#plot)"><path d="M538.4,602.9 L539.9,598.9 L541.4,595.1 L542.9,591.3 L544.4,587.6 L545.9,584.0 L547.4,580.4 L548.9,576.9 L550.4,573.4 L551.9,570.0 L553.4,566.7 L554.9,563.5 L556.4,560.3 L557.9,557.1 L559.4,554.1 L560.9,551.0 L562.4,548.1 L563.9,545.2 L565.4,542.3 L566.9,539.6 L568.4,536.8 L569.9,534.1 L571.4,531.5 L572.9,528.9 L574.4,526.4 L575.9,524.0 L577.4,521.5 L578.9,519.2 L580.4,516.9 L581.9,514.6 L583.4,512.4 L584.9,510.2 L586.4,508.1 L587.9,506.0 L589.4,504.0 L590.9,502.0 L592.4,500.0 L593.9,498.1 L595.4,496.3 L596.9,494.5 L598.4,492.7 L599.9,491.0 L601.4,489.3 L602.9,487.6 L604.4,486.0 L605.9,484.5 L607.4,482.9 L608.9,481.5 L610.4,480.0 L611.9,478.6 L613.4,477.2 L614.9,475.9 L616.4,474.6 L617.9,473.3 L619.4,472.1 L620.9,470.9 L622.4,469.7 L623.9,468.6 L625.4,467.5 L626.9,466.4 L628.4,465.4 L629.9,464.4 L631.4,463.4 L632.9,462.5 L634.4,461.6 L635.9,460.7 L637.4,459.9 L638.9,459.0 L640.4,458.3 L641.9,457.5 L643.4,456.8 L644.9,456.1 L646.4,455.4 L647.9,454.7 L649.4,454.1 L650.9,453.5 L652.4,452.9 L653.9,452.4 L655.4,451.9 L656.9,451.4 L658.4,450.9 L659.9,450.5 L661.4,450.1 L662.9,449.7 L664.4,449.3 L665.9,448.9 L667.4,448.6 L668.9,448.3 L670.4,448.0 L671.9,447.8 L673.4,447.5 L674.9,447.3 L676.4,447.1 L677.9,446.9 L679.4,446.8 L680.9,446.6 L682.4,446.5 L683.9,446.4 L685.4,446.3 L686.9,446.3 L688.4,446.2 L689.9,446.2 L691.4,446.2 L692.9,446.2 L694.4,446.2 L695.9,446.3 L697.4,446.4 L698.9,446.4 L700.4,446.5 L701.9,446.6 L703.4,446.8 L704.9,446.9 L706.4,447.1 L707.9,447.2 L709.4,447.4 L710.9,447.6 L712.4,447.9 L713.9,448.1 L715.4,448.3 L716.9,448.6 L718.4,448.9 L719.9,449.1 L721.4,449.4 L722.9,449.8 L724.4,450.1 L725.9,450.4 L727.4,450.8 L728.9,451.1 L730.4,451.5 L731.9,451.9 L733.4,452.3 L734.9,452.7 L736.4,453.1 L737.9,453.5 L739.4,454.0 L740.9,454.4 L742.4,454.9 L743.9,455.3 L745.4,455.8 L746.9,456.3 L748.4,456.8 L749.9,457.3 L751.4,457.9 L752.9,458.4 L754.4,458.9 L755.9,459.5 L757.4,460.0 L758.9,460.6 L760.4,461.2 L761.9,461.7 L763.4,462.3 L764.9,462.9 L766.4,463.5 L767.9,464.2 L769.4,464.8 L770.9,465.4 L772.4,466.0 L773.9,466.7 L775.4,467.3 L776.9,468.0 L778.4,468.7 L779.9,469.3 L781.4,470.0 L782.9,470.7 L784.4,471.4 L785.9,472.1 L787.4,472.8 L788.9,473.5 L790.4,474.2 L791.9,475.0 L793.4,475.7 L794.9,476.4 L796.4,477.2 L797.9,477.9 L799.4,478.7 L800.9,479.4 L802.4,480.2 L803.9,480.9 L805.4,481.7 L806.9,482.5 L808.4,483.3 L809.9,484.1 L811.4,484.9 L812.9,485.7 L814.4,486.5 L815.9,487.3 L817.4,488.1 L818.9,488.9 L820.4,489.7 L821.9,490.5 L823.4,491.4 L824.9,492.2 L826.4,493.0 L827.9,493.9 L829.4,494.7 L830.9,495.6 L832.4,496.4 L833.9,497.3 L835.4,498.2 L836.9,499.0 L838.4,499.9 L839.9,500.8 L841.4,501.6 L842.9,502.5 L844.4,503.4 L845.9,504.3 L847.4,505.2 L848.9,506.1 L850.4,506.9 L851.9,507.8 L853.4,508.7 L854.9,509.6 L856.4,510.6 L857.9,511.5 L859.4,512.4 L860.9,513.3 L862.4,514.2 L863.9,515.1 L865.4,516.1 L866.9,517.0 L868.4,517.9 L869.9,518.8 L871.4,519.8 L872.9,520.7 L874.4,521.6 L875.9,522.6 L877.4,523.5 L878.9,524.5 L880.4,525.4 L881.9,526.4 L883.4,527.3 L884.9,528.3 L886.4,529.2 L887.9,530.2 L889.4,531.1 L890.9,532.1 L892.4,533.1 L893.9,534.0 L895.4,535.0 L896.9,536.0 L898.4,536.9 L899.9,537.9 L901.4,538.9 L902.9,539.9 L904.4,540.8 L905.9,541.8 L907.4,542.8 L908.9,543.8 L910.4,544.8 L911.9,545.8 L913.4,546.7 L914.9,547.7 L916.4,548.7 L917.9,549.7 L919.4,550.7 L920.9,551.7 L922.4,552.7 L923.9,553.7 L925.4,554.7 L926.9,555.7 L928.4,556.7 L929.9,557.7 L931.4,558.7 L932.9,559.7 L934.4,560.7 L935.9,561.7 L937.4,562.8 L938.9,563.8 L940.4,564.8 L941.9,565.8 L943.4,566.8 L944.9,567.8 L946.4,568.8 L947.9,569.9 L949.4,570.9 L950.9,571.9 L952.4,572.9 L953.9,573.9 L955.4,575.0 L956.9,576.0 L957.4,576.3" stroke="#cc1818" stroke-width="6.5" fill="none" stroke-linejoin="round"/></g>
<rect x="706" y="176" width="6.3" height="57" fill="#fff" fill-opacity="0.18"/>
<polygon points="270.2,5.3 274.6,15.5 280.9,6.4 283.3,17.2 291.2,9.5 291.4,20.6 300.8,14.6 298.7,25.5 309.1,21.4 305.0,31.8 315.9,29.7 309.9,39.1 321.0,39.3 313.3,47.2 324.1,49.6 315.0,55.9 325.2,60.3 315.0,64.7 324.1,71.0 313.3,73.4 321.0,81.3 309.9,81.5 315.9,90.9 305.0,88.8 309.1,99.2 298.7,95.1 300.8,106.0 291.4,100.0 291.2,111.1 283.3,103.4 280.9,114.2 274.6,105.1 270.2,115.3 265.8,105.1 259.5,114.2 257.1,103.4 249.2,111.1 249.0,100.0 239.6,106.0 241.7,95.1 231.3,99.2 235.4,88.8 224.5,90.9 230.5,81.5 219.4,81.3 227.1,73.4 216.3,71.0 225.4,64.7 215.2,60.3 225.4,55.9 216.3,49.6 227.1,47.2 219.4,39.3 230.5,39.1 224.5,29.7 235.4,31.8 231.3,21.4 241.7,25.5 239.6,14.6 249.0,20.6 249.2,9.5 257.1,17.2 259.5,6.4 265.8,15.5" fill="#ffff33" stroke="#222200" stroke-width="1.4" stroke-linejoin="miter"/>
<g stroke="#000" stroke-width="1.0">
<line x1="335" y1="634" x2="254" y2="691"/>
<line x1="396.7" y1="634" x2="396.7" y2="691"/>
</g>
<rect x="224.7" y="697.8" width="178.9" height="54.4" fill="url(#spec)"/>
<g fill="#000">
<text transform="translate(328.20,61.75) scale(0.9356,1)" font-family='"Liberation Sans",Arial,sans-serif' font-weight="bold" font-size="37.90">T=6000</text>
<text transform="translate(458.66,68.00) scale(0.9573,1)" font-family='"Liberation Sans",Arial,sans-serif' font-size="41.00">°</text>
<text transform="translate(474.62,61.50) scale(0.8878,1)" font-family='"Liberation Sans",Arial,sans-serif' font-weight="bold" font-size="37.90">C</text>
<text transform="translate(721.40,229.00) scale(0.9466,1)" font-family='"Liberation Sans",Arial,sans-serif' font-weight="bold" font-size="37.20">T=20</text>
<text transform="translate(811.30,235.00) scale(0.9398,1)" font-family='"Liberation Sans",Arial,sans-serif' font-size="41.00">°</text>
<text transform="translate(828.30,228.40) scale(0.8552,1)" font-family='"Liberation Sans",Arial,sans-serif' font-weight="bold" font-size="37.20">C</text>
<text transform="translate(0,727.50) scale(1.0000,1)" x="528.31 559.39 579.35 604.42 629.55 643.52 665.00 689.34 714.64 728.55 751.76 765.31 777.31 799.80 834.66" y="0" font-family='"Liberation Sans",Arial,sans-serif' font-weight="bold" font-size="38.00">wavelength (µm)</text>
<text transform="translate(0,668.80) scale(0.9500,1)" x="152.54 178.65 193.06" y="0" font-family='"Liberation Sans",Arial,sans-serif' font-size="45.50">0,1</text>
<text transform="translate(0,668.80) scale(0.9500,1)" x="449.79" y="0" font-family='"Liberation Sans",Arial,sans-serif' font-size="45.50">1</text>
<text transform="translate(0,668.80) scale(0.9500,1)" x="707.58 732.33" y="0" font-family='"Liberation Sans",Arial,sans-serif' font-size="45.50">10</text>
<text transform="translate(0,668.80) scale(0.9500,1)" x="971.90 995.80 1023.17" y="0" font-family='"Liberation Sans",Arial,sans-serif' font-size="45.50">100</text>
<text x="83.8" y="93.8" font-family='"Liberation Serif","Times New Roman",serif' font-size="40">10</text><text x="123.7" y="81.1" font-family='"Liberation Serif","Times New Roman",serif' font-size="26.5">4</text>
<text x="80.1" y="194.8" font-family='"Liberation Serif","Times New Roman",serif' font-size="40">10</text><text x="120.6" y="182.8" font-family='"Liberation Serif","Times New Roman",serif' font-size="26.5">2</text>
<text x="99.2" y="326.5" font-family='"Liberation Serif","Times New Roman",serif' font-size="40">1</text>
<text x="70.7" y="428.75" font-family='"Liberation Serif","Times New Roman",serif' font-size="40">10</text><text x="111.6" y="416.75" font-family='"Liberation Serif","Times New Roman",serif' font-size="26.5">-2</text>
<text x="68.1" y="541" font-family='"Liberation Serif","Times New Roman",serif' font-size="40">10</text><text x="109" y="529.4" font-family='"Liberation Serif","Times New Roman",serif' font-size="26.5">-4</text>
<text x="68.1" y="648.75" font-family='"Liberation Serif","Times New Roman",serif' font-size="40">10</text><text x="109" y="636.75" font-family='"Liberation Serif","Times New Roman",serif' font-size="26.5">-6</text>
<text transform="translate(34.5,432) rotate(-90) translate(-0.67,0) scale(0.9820,1)" font-family='"Liberation Serif","Times New Roman",serif' font-weight="bold" font-size="40.2">Emission</text>
<text transform="translate(237.44,775.10) scale(0.9269,1)" font-family='"Liberation Sans",Arial,sans-serif' font-weight="bold" font-size="25.30">Visible light</text>
<text transform="translate(232.90,748.70) scale(0.9775,1)" font-family='"Liberation Sans",Arial,sans-serif' font-weight="bold" font-size="13.30" fill="#14142a">400 nm</text>
<text transform="translate(351.63,748.70) scale(0.9991,1)" font-family='"Liberation Sans",Arial,sans-serif' font-weight="bold" font-size="13.30" fill="#1e0a05">700 nm</text>
</g>
<rect x="185.7" y="664.6" width="8.6" height="5.7" fill="#fff"/><rect x="198.1" y="664.6" width="8.2" height="5.7" fill="#fff"/><rect x="429.6" y="664.6" width="8.6" height="5.7" fill="#fff"/><rect x="442.0" y="664.6" width="8.2" height="5.7" fill="#fff"/><rect x="674.5" y="664.6" width="8.6" height="5.7" fill="#fff"/><rect x="686.9" y="664.6" width="8.2" height="5.7" fill="#fff"/><rect x="925.6" y="664.6" width="8.6" height="5.7" fill="#fff"/><rect x="938.0" y="664.6" width="8.2" height="5.7" fill="#fff"/>
<g stroke="#000" stroke-width="4" fill="none" stroke-linecap="round">
<line x1="788" y1="246" x2="721.5" y2="444"/>
<polyline points="718,426 721.5,444.5 736.4,431" stroke-linejoin="miter"/>
</g>
<line x1="762.5" y1="20.3" x2="762.5" y2="23.8" stroke="#1a1a1a" stroke-width="1.3"/>
<line x1="751.2" y1="24.2" x2="752.3" y2="25.2" stroke="#1a1a1a" stroke-width="1.3"/>
<line x1="771.8" y1="25.4" x2="772.8" y2="26.4" stroke="#1a1a1a" stroke-width="1.3"/>
<line x1="746.0" y1="31.8" x2="749.2" y2="31.8" stroke="#1a1a1a" stroke-width="1.3"/>
<line x1="776.3" y1="33.2" x2="778.9" y2="31.3" stroke="#1a1a1a" stroke-width="1.3"/>
<line x1="744.4" y1="38.6" x2="747.6" y2="40.6" stroke="#1a1a1a" stroke-width="1.3"/>
<line x1="776.3" y1="41.0" x2="779.8" y2="41.0" stroke="#1a1a1a" stroke-width="1.3"/>
<line x1="746.2" y1="48.3" x2="749.0" y2="48.3" stroke="#1a1a1a" stroke-width="1.3"/>
<line x1="775.5" y1="47.0" x2="778.7" y2="48.6" stroke="#1a1a1a" stroke-width="1.3"/>
<polygon points="750.2,100 763,100 762.5,150.5 750.8,150.5" fill="#7f7f7f" stroke="#0c0c0c" stroke-width="1.3"/>
<polygon points="762.5,100 775.8,100 783,153.5 770.8,153.5 763.5,116" fill="#7f7f7f" stroke="#0c0c0c" stroke-width="1.3"/>
<path d="M739.5,154.8 C741,151 746,149.8 751,149 L761,149 L761.2,155.2 Z" fill="#050505"/>
<path d="M770.8,152.2 L783,152.2 C785.5,154 788.2,156.2 788.8,159.6 L771.8,159.6 Z" fill="#050505"/>
<path d="M748,58 C742,63 736,69 731.5,71.5 L731,79 C738,79.5 744,81 749.5,83 Z" fill="#7f7f7f" stroke="#0c0c0c" stroke-width="1.3"/>
<path d="M777,58 C783,63 789,69 793.5,71.5 L794,79 C787,79.5 781,81 775.5,83 Z" fill="#7f7f7f" stroke="#0c0c0c" stroke-width="1.3"/>
<path d="M732,71 L726,69.5 L719,69 L715,68.3 L714.5,70 L719,71.5 L716,74 L715,78 L718,79 L720,77 L721,81 L724,81.5 L725,78.5 L728,80.5 L731.5,80 Z" fill="#ebcd92" stroke="#0c0c0c" stroke-width="1.1"/>
<path d="M793.5,71 L799,69.5 L805,69 L810.5,68.3 L811,70 L806.5,71.5 L810,75 L811,79 L808,79.5 L806,77 L805,81.5 L802,81.5 L801,78.5 L798,80.5 L794,80 Z" fill="#ebcd92" stroke="#0c0c0c" stroke-width="1.1"/>
<polygon points="747,56.2 778,56.2 778.3,64 777.5,102.2 748.3,102.2 746.6,64" fill="#7f7f7f" stroke="#0c0c0c" stroke-width="1.3"/>
<polygon points="758.3,56.5 767,56.5 765.8,63 759.3,63" fill="#f4f4f4"/>
<polygon points="752.5,66 755.5,63 757.3,100.5 753,100.5" fill="#788878"/>
<polygon points="760.6,59.5 764.8,59.5 765.8,66 765.8,95 762.6,97.5 759.6,95 759.6,66" fill="#b01a20" stroke="#2a0404" stroke-width="0.9"/>
<polyline points="757.8,57 756.2,64 758.8,97" fill="none" stroke="#0c0c0c" stroke-width="1.1"/>
<polyline points="767.3,57 768.8,64 766.4,97" fill="none" stroke="#0c0c0c" stroke-width="1.1"/>
<line x1="748.3" y1="101.6" x2="777.5" y2="101.6" stroke="#0c0c0c" stroke-width="1.6"/>
<path d="M755.4,38 L755.4,50 Q756,55 762.3,55.6 Q769.3,55 769.9,50 L770.1,38 Z" fill="#ebcd92" stroke="#0c0c0c" stroke-width="1.2"/>
<path d="M754.3,46 L754.3,36 Q756,32.2 762,32.5 Q768.5,32.2 770.8,34.5 L772.3,37 L770.8,38.2 L772.3,41.5 L770.4,45 L769.8,39 L756.6,39 L756,46 Z" fill="#17110d"/>
<rect x="755.6" y="42.4" width="14.3" height="1.7" fill="#0e0e0e"/>
<rect x="757.0" y="42.4" width="4.9" height="3.4" rx="0.9" fill="#1e1e1e"/>
<rect x="763.7" y="42.4" width="4.9" height="3.4" rx="0.9" fill="#1e1e1e"/>
<line x1="760.5" y1="46.8" x2="761.8" y2="48.2" stroke="#333" stroke-width="0.9"/>
<path d="M759,51.2 L765.6,51.2 L764.6,53.8 L760,53.8 Z" fill="#281006"/>
</svg>
</body></html>
